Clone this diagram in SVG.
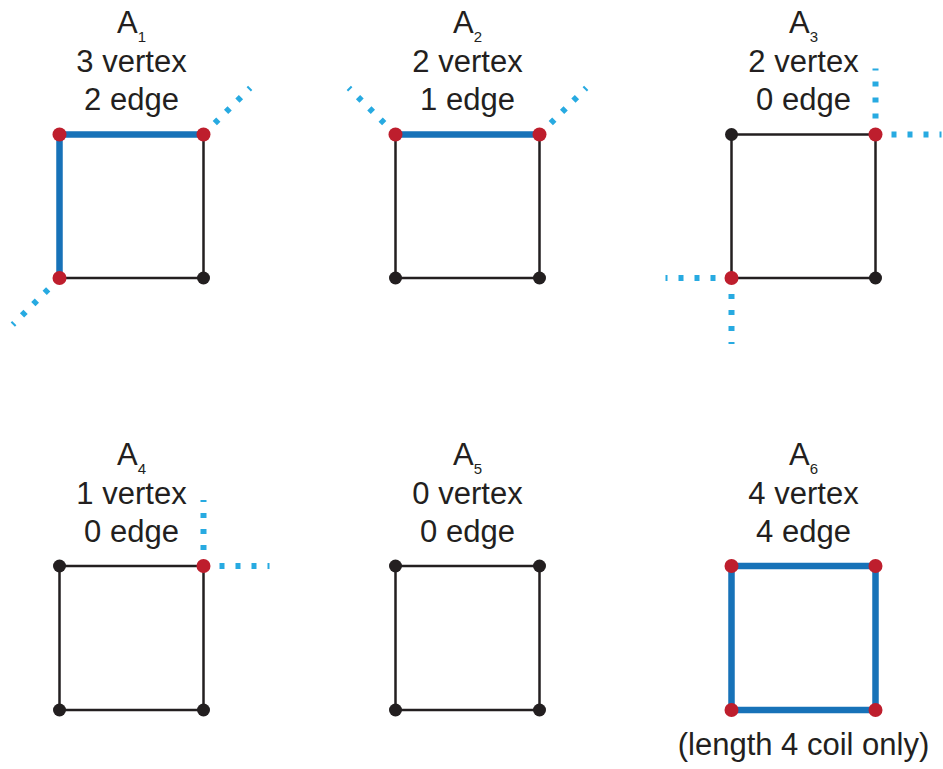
<svg xmlns="http://www.w3.org/2000/svg" width="943" height="769" viewBox="0 0 943 769">
  <style>
    .lbl { font-family: "Liberation Sans", Arial, sans-serif; font-size: 31px; fill: #231f20; text-anchor: middle; }
    .sub { font-size: 15px; }
    .edge { stroke: #231f20; stroke-width: 2.5; fill: none; stroke-linecap: round; }
    .bond { stroke: #1772b8; stroke-width: 6.5; fill: none; stroke-linecap: butt; }
    .link { stroke: #27aae1; stroke-width: 6; fill: none; stroke-dasharray: 5 11; stroke-linecap: butt; }
    .v0 { fill: #231f20; }
    .v1 { fill: #be1e2d; }
  </style>
  <rect width="943" height="769" fill="#ffffff"/>

  <!-- A1: 3 vertices, 2 edges -->
  <g id="panel-a1">
    <text class="lbl" x="131.5" y="33.3">A<tspan class="sub" dy="8.6">1</tspan></text>
    <text class="lbl" x="131.5" y="71.7">3 vertex</text>
    <text class="lbl" x="131.5" y="110">2 edge</text>
    <path class="edge" d="M203.5,134.5 V278 H59.5"/>
    <path class="bond" d="M59.5,278 V134.5 H203.5"/>
  </g>

  <!-- A2: 2 vertices, 1 edge -->
  <g id="panel-a2">
    <text class="lbl" x="467.5" y="33.3">A<tspan class="sub" dy="8.6">2</tspan></text>
    <text class="lbl" x="467.5" y="71.7">2 vertex</text>
    <text class="lbl" x="467.5" y="110">1 edge</text>
    <path class="edge" d="M539.5,134.5 V278 H395.5 V134.5"/>
    <path class="bond" d="M395.5,134.5 H539.5"/>
  </g>

  <!-- A3: 2 vertices, 0 edges -->
  <g id="panel-a3">
    <text class="lbl" x="803.5" y="33.3">A<tspan class="sub" dy="8.6">3</tspan></text>
    <text class="lbl" x="803.5" y="71.7">2 vertex</text>
    <text class="lbl" x="803.5" y="110">0 edge</text>
    <rect class="edge" x="731.5" y="134.5" width="144" height="143.5"/>
  </g>

  <!-- A4: 1 vertex, 0 edges -->
  <g id="panel-a4">
    <text class="lbl" x="131.5" y="465.3">A<tspan class="sub" dy="8.6">4</tspan></text>
    <text class="lbl" x="131.5" y="503.7">1 vertex</text>
    <text class="lbl" x="131.5" y="542">0 edge</text>
    <rect class="edge" x="59.5" y="566" width="144" height="144"/>
  </g>

  <!-- A5: 0 vertices, 0 edges -->
  <g id="panel-a5">
    <text class="lbl" x="467.5" y="465.3">A<tspan class="sub" dy="8.6">5</tspan></text>
    <text class="lbl" x="467.5" y="503.7">0 vertex</text>
    <text class="lbl" x="467.5" y="542">0 edge</text>
    <rect class="edge" x="395.5" y="566" width="144" height="144"/>
  </g>

  <!-- A6: 4 vertices, 4 edges -->
  <g id="panel-a6">
    <text class="lbl" x="803.5" y="465.3">A<tspan class="sub" dy="8.6">6</tspan></text>
    <text class="lbl" x="803.5" y="503.7">4 vertex</text>
    <text class="lbl" x="803.5" y="542">4 edge</text>
    <rect class="bond" x="731.5" y="566" width="144" height="144"/>
    <text class="lbl" x="803.5" y="755">(length 4 coil only)</text>
  </g>

  <!-- dashed external links leaving the square -->
  <g id="connectors">
    <path class="link" d="M214.8,123.2 L250.2,87.8"/>
    <path class="link" d="M48.2,289.3 L12.8,324.7"/>
    <path class="link" d="M384.2,123.2 L348.8,87.8"/>
    <path class="link" d="M550.8,123.2 L586.2,87.8"/>
    <path class="link" d="M891.5,134.5 H941.5"/>
    <path class="link" d="M875.5,118.5 V68.5"/>
    <path class="link" d="M715.5,278 H665.5"/>
    <path class="link" d="M731.5,294 V344"/>
    <path class="link" d="M203.5,550 V500"/>
    <path class="link" d="M219.5,566 H269.5"/>
  </g>

  <!-- vertex dots -->
  <g id="vertices">
    <circle class="v1" cx="59.5" cy="134.5" r="7"/>
    <circle class="v1" cx="203.5" cy="134.5" r="7"/>
    <circle class="v1" cx="59.5" cy="278" r="7"/>
    <circle class="v0" cx="203.5" cy="278" r="6.5"/>

    <circle class="v1" cx="395.5" cy="134.5" r="7"/>
    <circle class="v1" cx="539.5" cy="134.5" r="7"/>
    <circle class="v0" cx="395.5" cy="278" r="6.5"/>
    <circle class="v0" cx="539.5" cy="278" r="6.5"/>

    <circle class="v0" cx="731.5" cy="134.5" r="6.5"/>
    <circle class="v1" cx="875.5" cy="134.5" r="7"/>
    <circle class="v1" cx="731.5" cy="278" r="7"/>
    <circle class="v0" cx="875.5" cy="278" r="6.5"/>

    <circle class="v0" cx="59.5" cy="566" r="6.5"/>
    <circle class="v1" cx="203.5" cy="566" r="7"/>
    <circle class="v0" cx="59.5" cy="710" r="6.5"/>
    <circle class="v0" cx="203.5" cy="710" r="6.5"/>

    <circle class="v0" cx="395.5" cy="566" r="6.5"/>
    <circle class="v0" cx="539.5" cy="566" r="6.5"/>
    <circle class="v0" cx="395.5" cy="710" r="6.5"/>
    <circle class="v0" cx="539.5" cy="710" r="6.5"/>

    <circle class="v1" cx="731.5" cy="566" r="7"/>
    <circle class="v1" cx="875.5" cy="566" r="7"/>
    <circle class="v1" cx="731.5" cy="710" r="7"/>
    <circle class="v1" cx="875.5" cy="710" r="7"/>
  </g>
</svg>
